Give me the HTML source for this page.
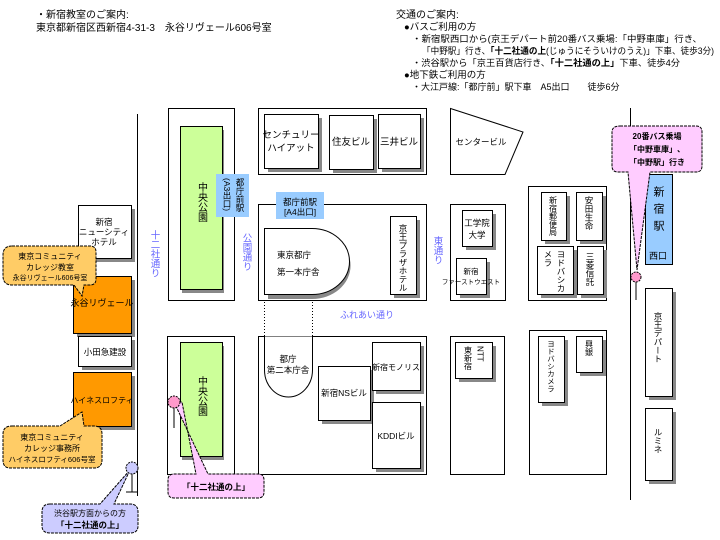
<!DOCTYPE html>
<html><head><meta charset="utf-8"><style>
html,body{margin:0;padding:0;background:#fff;}
svg{display:block;}
text{font-family:"Liberation Sans","Noto Sans CJK JP",sans-serif;font-size:10px;fill:#000;}
.b{fill:#6666ff;}
.v{writing-mode:tb;}
</style></head><body>
<svg width="720" height="540" viewBox="0 0 720 540" xmlns="http://www.w3.org/2000/svg">
<!-- header text -->
<text x="36" y="18">・新宿教室のご案内:</text>
<text x="36" y="31">東京都新宿区西新宿4-31-3　永谷リヴェール606号室</text>
<text x="396" y="18">交通のご案内:</text>
<text x="404" y="30" style="font-size:9.5px">●バスご利用の方</text>
<text x="412" y="42" style="font-size:9px" textLength="290" lengthAdjust="spacingAndGlyphs">・新宿駅西口から(京王デパート前20番バス乗場:「中野車庫」行き、</text>
<text x="422" y="54" style="font-size:9px" textLength="292" lengthAdjust="spacingAndGlyphs">「中野駅」行き、<tspan font-weight="bold">「十二社通の上</tspan>(じゅうにそういけのうえ)」下車、徒歩3分)</text>
<text x="412" y="66" style="font-size:9px" textLength="268" lengthAdjust="spacingAndGlyphs">・渋谷駅から「京王百貨店行き、<tspan font-weight="bold">「十二社通の上」</tspan>下車、徒歩4分</text>
<text x="404" y="78" style="font-size:9.5px">●地下鉄ご利用の方</text>
<text x="412" y="90" style="font-size:9px">・大江戸線:「都庁前」駅下車　A5出口　　徒歩6分</text>

<!-- roads -->
<line x1="137.5" y1="114" x2="137.5" y2="496" stroke="#000"/>
<line x1="630.5" y1="108" x2="630.5" y2="500" stroke="#000"/>
<line x1="264.5" y1="296" x2="264.5" y2="340" stroke="#000" stroke-dasharray="1,2"/>
<line x1="312.5" y1="296" x2="312.5" y2="340" stroke="#000" stroke-dasharray="1,2"/>

<g stroke="#000" fill="#fff">
<rect x="168.5" y="108.5" width="66" height="192"/>
<rect x="167.5" y="336.5" width="67" height="138"/>
<rect x="258.5" y="108.5" width="168" height="66"/>
<rect x="258.5" y="204.5" width="168" height="96"/>
<rect x="258.5" y="336.5" width="168" height="138"/>
<rect x="450.5" y="204.5" width="55" height="96"/>
<rect x="450.5" y="336.5" width="54" height="138"/>
<rect x="528.5" y="186.5" width="78" height="114"/>
<rect x="529.5" y="330.5" width="77" height="144"/>
<polygon points="450.5,108.5 523,132 505,174.5 450.5,174.5"/>
</g>

<g fill="#888">
<rect x="182" y="130" width="42" height="163"/>
<rect x="182" y="346" width="42" height="114"/>
<rect x="82" y="209" width="53" height="53"/>
<rect x="77" y="280" width="58" height="57"/>
<rect x="82" y="340" width="53" height="30"/>
<rect x="77" y="376" width="58" height="54"/>
<rect x="268" y="118" width="54" height="54"/>
<rect x="333" y="119" width="44" height="54"/>
<rect x="382" y="118" width="42" height="54"/>
<rect x="394" y="220" width="26" height="78"/>
<rect x="466" y="214" width="30" height="36"/>
<rect x="460" y="262" width="30" height="36"/>
<rect x="545" y="196" width="25" height="48"/>
<rect x="580" y="196" width="26" height="48"/>
<rect x="541" y="250" width="36" height="48"/>
<rect x="581" y="250" width="26" height="48"/>
<rect x="649" y="292" width="27" height="108"/>
<rect x="649" y="412" width="27" height="72"/>
<rect x="322" y="370" width="52" height="54"/>
<rect x="376" y="346" width="48" height="48"/>
<rect x="376" y="406" width="48" height="66"/>
<rect x="459" y="346" width="37" height="36"/>
<rect x="542" y="340" width="26" height="66"/>
<rect x="580" y="340" width="26" height="36"/>
<path d="M268,232 H312 A38,33 0 0 1 312,299 H268 Z"/>
</g>
<g stroke="#000">
<rect x="180.5" y="126.5" width="42" height="163" fill="#ccff99"/>
<rect x="180.5" y="342.5" width="42" height="114" fill="#ccff99"/>
<rect x="78.5" y="205.5" width="53" height="53" fill="#fff"/>
<rect x="73.5" y="276.5" width="58" height="57" fill="#ff9900"/>
<rect x="78.5" y="336.5" width="53" height="30" fill="#fff"/>
<rect x="73.5" y="372.5" width="58" height="54" fill="#ff9900"/>
<rect x="264.5" y="114.5" width="54" height="54" fill="#fff"/>
<rect x="329.5" y="115.5" width="44" height="54" fill="#fff"/>
<rect x="378.5" y="114.5" width="42" height="54" fill="#fff"/>
<rect x="390.5" y="216.5" width="26" height="78" fill="#fff"/>
<rect x="462.5" y="210.5" width="30" height="36" fill="#fff"/>
<rect x="456.5" y="258.5" width="30" height="36" fill="#fff"/>
<rect x="541.5" y="192.5" width="25" height="48" fill="#fff"/>
<rect x="576.5" y="192.5" width="26" height="48" fill="#fff"/>
<rect x="537.5" y="246.5" width="36" height="48" fill="#fff"/>
<rect x="577.5" y="246.5" width="26" height="48" fill="#fff"/>
<rect x="645.5" y="288.5" width="27" height="108" fill="#fff"/>
<rect x="645.5" y="408.5" width="27" height="72" fill="#fff"/>
<rect x="318.5" y="366.5" width="52" height="54" fill="#fff"/>
<rect x="372.5" y="342.5" width="48" height="48" fill="#fff"/>
<rect x="372.5" y="402.5" width="48" height="66" fill="#fff"/>
<rect x="455.5" y="342.5" width="37" height="36" fill="#fff"/>
<rect x="538.5" y="336.5" width="26" height="66" fill="#fff"/>
<rect x="576.5" y="336.5" width="26" height="36" fill="#fff"/>
<path d="M264.5,228.5 H312 A37.5,33 0 0 1 312,294.5 H264.5 Z" fill="#fff"/>
<path d="M264.5,336.5 V370 A24,27 0 0 0 312.5,370 V336.5" fill="#fff"/>
</g>
<rect x="216" y="174" width="33" height="43" fill="#99ccff"/>
<rect x="276" y="192" width="48" height="27" fill="#99ccff"/>
<rect x="645.5" y="174.5" width="27" height="90" fill="#99ccff" stroke="#000"/>

<text x="201" y="182" class="v" style="font-size:10px">中央公園</text>
<text x="201" y="376" class="v" style="font-size:10px">中央公園</text>
<text x="240" y="178" class="v" style="font-size:8.5px">都庁前駅</text>
<text x="227" y="178" class="v" style="font-size:8.5px">(A3出口)</text>
<text x="300" y="205" text-anchor="middle" style="font-size:8.5px">都庁前駅</text>
<text x="300" y="215" text-anchor="middle" style="font-size:8.5px">[A4出口]</text>
<text x="154" y="230" class="v b" style="font-size:9.5px">十二社通り</text>
<text x="246" y="233" class="v b" style="font-size:9.5px">公園通り</text>
<text x="437" y="236" class="v b" style="font-size:9.5px">東通り</text>
<text x="340" y="318" class="b" style="font-size:9px">ふれあい通り</text>
<text x="104" y="225" text-anchor="middle" style="font-size:8.5px">新宿</text>
<text x="104" y="235" text-anchor="middle" style="font-size:8.5px">ニューシティ</text>
<text x="104" y="245" text-anchor="middle" style="font-size:8.5px">ホテル</text>
<text x="102" y="306" text-anchor="middle" style="font-size:9px">永谷リヴェール</text>
<text x="105" y="355" text-anchor="middle" style="font-size:8.5px">小田急建設</text>
<text x="102" y="403" text-anchor="middle" style="font-size:8px">ハイネスロフティ</text>
<text x="291" y="138" text-anchor="middle" style="font-size:9.5px">センチュリー</text>
<text x="291" y="151" text-anchor="middle" style="font-size:9.5px">ハイアット</text>
<text x="351" y="145" text-anchor="middle" style="font-size:9.5px">住友ビル</text>
<text x="399" y="145" text-anchor="middle" style="font-size:9.5px">三井ビル</text>
<text x="481" y="145" text-anchor="middle" style="font-size:8.5px">センタービル</text>
<text x="277" y="258" style="font-size:8.5px">東京都庁</text>
<text x="277" y="275" style="font-size:8.5px">第一本庁舎</text>
<text x="403" y="224" class="v" style="font-size:8.5px">京王プラザホテル</text>
<text x="477" y="226" text-anchor="middle" style="font-size:8.5px">工学院</text>
<text x="477" y="238" text-anchor="middle" style="font-size:8.5px">大学</text>
<text x="471" y="274" text-anchor="middle" style="font-size:7.5px">新宿</text>
<text x="471" y="284" text-anchor="middle" style="font-size:6.5px">ファーストウエスト</text>
<text x="553" y="196" class="v" style="font-size:8px">新宿郵便局</text>
<text x="589" y="196" class="v" style="font-size:8.5px">安田生命</text>
<text x="561" y="250" class="v" style="font-size:8.5px">ヨドバシカ</text>
<text x="548" y="250" class="v" style="font-size:8.5px">メラ</text>
<text x="590" y="252" class="v" style="font-size:8.5px">三菱信託</text>
<text x="658" y="186" class="v" style="font-size:11px;letter-spacing:6px">新宿駅</text>
<text x="649" y="259" style="font-size:9px">西口</text>
<text x="658" y="312" class="v" style="font-size:8.5px">京王デパート</text>
<text x="658" y="428" class="v" style="font-size:8.5px">ルミネ</text>
<text x="288" y="362" text-anchor="middle" style="font-size:8.5px">都庁</text>
<text x="288" y="373" text-anchor="middle" style="font-size:8.5px">第二本庁舎</text>
<text x="344" y="396" text-anchor="middle" style="font-size:8.5px">新宿NSビル</text>
<text x="396" y="370" text-anchor="middle" style="font-size:8px">新宿モノリス</text>
<text x="396" y="439" text-anchor="middle" style="font-size:8.5px">KDDIビル</text>
<text x="480" y="346" class="v" style="font-size:8px">NTT</text>
<text x="468" y="346" class="v" style="font-size:8px">東新宿</text>
<text x="551" y="340" class="v" style="font-size:7.5px">ヨドバシカメラ</text>
<text x="589" y="340" class="v" style="font-size:8px">興銀</text>

<path d="M620,126 H696 Q702,126 702,132 V166 Q702,172 696,172 H650 L637,270 L628,172 H618 Q612,172 612,166 V132 Q612,126 620,126 Z" fill="#ffccff" stroke="#000" stroke-dasharray="3,1"/>
<text x="657" y="139" text-anchor="middle" font-weight="bold" style="font-size:8px">20番バス乗場</text>
<text x="657" y="152" text-anchor="middle" font-weight="bold" style="font-size:8px">「中野車庫」、</text>
<text x="657" y="165" text-anchor="middle" font-weight="bold" style="font-size:8px">「中野駅」行き</text>
<circle cx="636" cy="277" r="5" fill="#ff99cc" stroke="#000" stroke-dasharray="2,1"/>
<line x1="636" y1="282" x2="636" y2="300" stroke="#000"/>

<line x1="174" y1="408" x2="174" y2="428" stroke="#000"/>
<path d="M174,402 L208,474 H258 Q264,474 264,480 V492 Q264,498 258,498 H174 Q168,498 168,492 V480 Q168,474 174,474 H196 L182,402 Z" fill="#ffccff" stroke="#000" stroke-dasharray="3,1"/>
<circle cx="174" cy="402" r="6" fill="#ff99cc" stroke="#000" stroke-dasharray="2,1"/>
<text x="216" y="490" text-anchor="middle" font-weight="bold" style="font-size:8.5px">「十二社通の上」</text>

<path d="M12,246 H90 Q96,246 96,252 V279 Q96,285 90,285 H84 L82,296 L74,285 H12 Q3,285 3,276 V255 Q3,246 12,246 Z" fill="#ffcc66" stroke="#000" stroke-dasharray="3,1"/>
<text x="50" y="259" text-anchor="middle" style="font-size:8px">東京コミュニティ</text>
<text x="50" y="270" text-anchor="middle" style="font-size:8px">カレッジ教室</text>
<text x="50" y="280" text-anchor="middle" style="font-size:7px">永谷リヴェール606号室</text>
<path d="M12,426 H60 L82,412 L84,426 H94 Q102,426 102,434 V460 Q102,468 94,468 H10 Q3,468 3,460 V434 Q3,426 12,426 Z" fill="#ffcc66" stroke="#000" stroke-dasharray="3,1"/>
<text x="52" y="440" text-anchor="middle" style="font-size:8px">東京コミュニティ</text>
<text x="52" y="451" text-anchor="middle" style="font-size:8px">カレッジ事務所</text>
<text x="52" y="462" text-anchor="middle" style="font-size:7.5px">ハイネスロフティ606号室</text>

<line x1="132" y1="474" x2="132" y2="492" stroke="#000"/>
<line x1="126" y1="492" x2="138" y2="492" stroke="#000"/>
<path d="M50,504 H100 L130,470 L114,504 H130 Q138,504 138,512 V526 Q138,533 130,533 H50 Q42,533 42,526 V512 Q42,504 50,504 Z" fill="#ccccff" stroke="#000" stroke-dasharray="3,1"/>
<circle cx="132" cy="468" r="6" fill="#ccccff" stroke="#000" stroke-dasharray="2,1"/>
<text x="90" y="516" text-anchor="middle" style="font-size:8px">渋谷駅方面からの方</text>
<text x="90" y="528" text-anchor="middle" font-weight="bold" style="font-size:8.5px">「十二社通の上」</text>
</svg>
</body></html>
